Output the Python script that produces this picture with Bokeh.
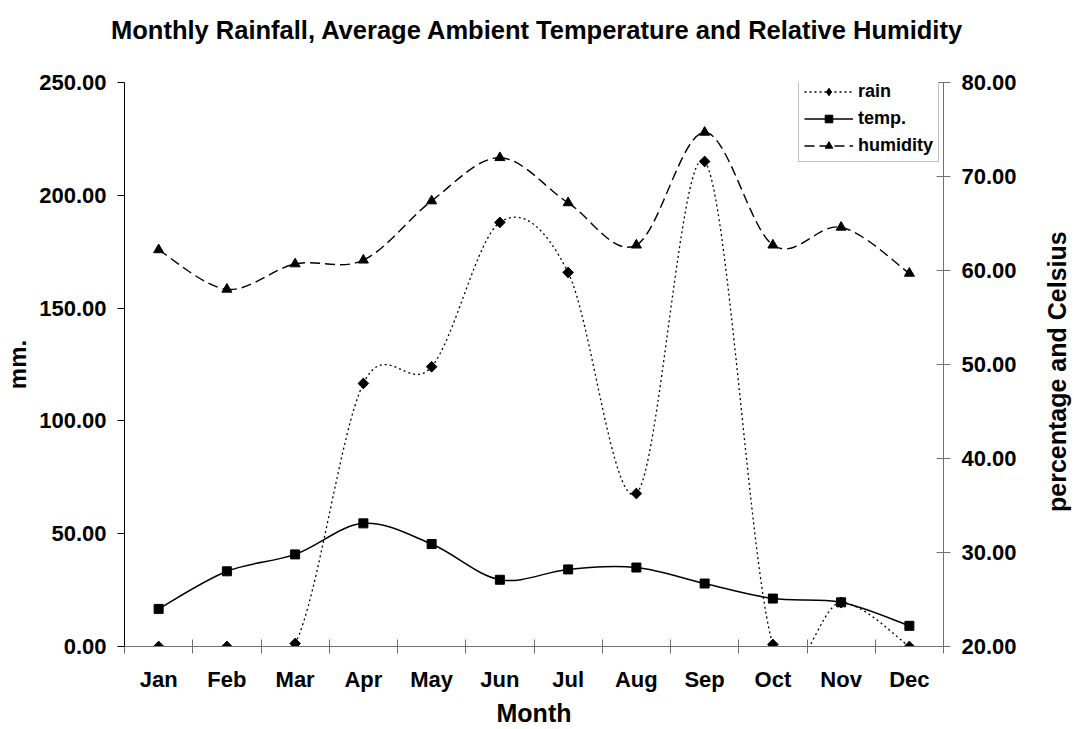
import math
import numpy as np
from bokeh.plotting import figure
from bokeh.layouts import column, row
from bokeh.models import (Range1d, LinearAxis, FixedTicker, NumeralTickFormatter,
                          Legend, LegendItem)
from bokeh.core.properties import value
from bokeh.embed import file_html
from bokeh.resources import INLINE

# ---- data ----
months = ["Jan", "Feb", "Mar", "Apr", "May", "Jun", "Jul", "Aug", "Sep", "Oct", "Nov", "Dec"]
rain = [0.0, 0.0, 1.3, 116.6, 124.0, 188.0, 165.8, 67.8, 215.0, 0.9, 19.5, 0.0]          # mm (left axis)
temp = [24.0, 28.0, 29.8, 33.1, 30.9, 27.1, 28.2, 28.4, 26.7, 25.1, 24.7, 22.2]         # Celsius (right axis)
humidity = [62.2, 58.0, 60.7, 61.1, 67.4, 72.0, 67.2, 62.7, 74.7, 62.7, 64.6, 59.7]    # % (right axis)
left_ticks = [0, 50, 100, 150, 200, 250]
right_ticks = [20, 30, 40, 50, 60, 70, 80]
title_text = "Monthly Rainfall, Average Ambient Temperature and Relative Humidity"
right_title = "percentage and Celsius"

xs = [i + 1 for i in range(len(months))]
FONT = "Liberation Sans"

W, H = 1074, 729
TOP_H = 60          # strip holding the chart title
SIDE_W = 44         # strip holding the right axis title
MAIN_W = W - SIDE_W
MAIN_H = H - TOP_H


def smooth_segments(x, y):
    """Cubic Bezier segments (Catmull-Rom style control points) through the data points,
    like a spreadsheet 'smoothed line'."""
    n = len(x)
    out = {k: [] for k in ("x0", "y0", "x1", "y1", "cx0", "cy0", "cx1", "cy1")}
    for i in range(n - 1):
        i0, i3 = max(i - 1, 0), min(i + 2, n - 1)
        out["x0"].append(x[i]); out["y0"].append(y[i])
        out["x1"].append(x[i + 1]); out["y1"].append(y[i + 1])
        out["cx0"].append(x[i] + (x[i + 1] - x[i0]) / 6.0)
        out["cy0"].append(y[i] + (y[i + 1] - y[i0]) / 6.0)
        out["cx1"].append(x[i + 1] - (x[i3] - x[i]) / 6.0)
        out["cy1"].append(y[i + 1] - (y[i3] - y[i]) / 6.0)
    return out


def blank(width, height):
    f = figure(width=width, height=height, output_backend="svg", toolbar_location=None,
               x_range=Range1d(0, width), y_range=Range1d(0, height),
               x_axis_location=None, y_axis_location=None,
               min_border_left=0, min_border_right=0, min_border_top=0, min_border_bottom=0)
    f.outline_line_color = None
    f.xgrid.visible = False
    f.ygrid.visible = False
    f.background_fill_color = "white"
    f.border_fill_color = "white"
    return f


# ---- title strip ----
t = blank(W, TOP_H)
t.text(x=[W / 2], y=[31], text=[title_text], text_align="center",
       text_baseline="alphabetic", text_font=value(FONT), text_font_size="25.5px",
       text_font_style="bold", text_color="black")

# ---- main chart ----
p = figure(width=MAIN_W, height=MAIN_H, output_backend="svg", toolbar_location=None,
           x_range=Range1d(0.5, len(months) + 0.5),
           y_range=Range1d(left_ticks[0], left_ticks[-1]),
           min_border_left=124, min_border_right=MAIN_W - 943,
           min_border_top=82 - TOP_H, min_border_bottom=83)
p.extra_y_ranges = {"right": Range1d(right_ticks[0], right_ticks[-1])}
p.background_fill_color = "white"
p.border_fill_color = "white"
p.outline_line_color = None
p.xgrid.visible = False
p.ygrid.visible = False

# x axis: labels at month centres, tick marks between months
xa = p.xaxis[0]
xa.ticker = FixedTicker(ticks=xs, minor_ticks=[v - 0.5 for v in xs] + [xs[-1] + 0.5])
xa.major_label_overrides = {v: m for v, m in zip(xs, months)}
xa.major_tick_line_color = None
xa.major_tick_in = 0
xa.major_tick_out = 0
xa.minor_tick_in = 7
xa.minor_tick_out = 7
xa.minor_tick_line_color = "#707070"
xa.axis_line_color = "#707070"
xa.major_label_standoff = 13
xa.major_label_text_font = FONT
xa.major_label_text_font_size = "22px"
xa.major_label_text_font_style = "bold"
xa.major_label_text_color = "black"
xa.axis_label = "Month"
xa.axis_label_text_font = FONT
xa.axis_label_text_font_size = "25px"
xa.axis_label_text_font_style = "bold"
xa.axis_label_text_color = "black"
xa.axis_label_standoff = 4

# left axis
ya = p.yaxis[0]
ya.ticker = FixedTicker(ticks=left_ticks)
ya.formatter = NumeralTickFormatter(format="0.00")
ya.minor_tick_line_color = None
ya.major_tick_in = 0
ya.major_tick_out = 7
ya.major_tick_line_color = "black"
ya.axis_line_color = "black"
ya.major_label_standoff = 11
ya.major_label_text_font = FONT
ya.major_label_text_font_size = "22px"
ya.major_label_text_font_style = "bold"
ya.major_label_text_color = "black"
ya.axis_label = "mm."
ya.axis_label_text_font = FONT
ya.axis_label_text_font_size = "24px"
ya.axis_label_text_font_style = "bold"
ya.axis_label_text_color = "black"
ya.axis_label_standoff = 5

# right axis
ra = LinearAxis(y_range_name="right")
ra.ticker = FixedTicker(ticks=right_ticks)
ra.formatter = NumeralTickFormatter(format="0.00")
ra.minor_tick_line_color = None
ra.major_tick_in = 7
ra.major_tick_out = 7
ra.major_tick_line_color = "#707070"
ra.axis_line_color = "#707070"
ra.major_label_standoff = 11
ra.major_label_text_font = FONT
ra.major_label_text_font_size = "22px"
ra.major_label_text_font_style = "bold"
ra.major_label_text_color = "black"
p.add_layout(ra, "right")

# series
hs = smooth_segments(xs, humidity)
r_hum_line = p.bezier(line_color="black", line_width=1.4, line_dash="10 5",
                      y_range_name="right", **hs)
r_hum_pts = p.scatter(xs, humidity, marker="triangle", size=10, color="black",
                      y_range_name="right")

rs = smooth_segments(xs, rain)
r_rain_line = p.bezier(line_color="black", line_width=1.3, line_dash="2 3", **rs)
# diamond drawn underneath the rotated-square markers; it supplies the legend swatch
r_rain_key = p.scatter(xs, rain, marker="diamond", size=10, color="black")
r_rain_pts = p.scatter(xs, rain, marker="square", angle=math.pi / 4, size=7.5, color="black")

ts = smooth_segments(xs, temp)
r_temp_line = p.bezier(line_color="black", line_width=1.5, y_range_name="right", **ts)
r_temp_pts = p.scatter(xs, temp, marker="square", size=9, color="black", y_range_name="right")

legend = Legend(items=[
    LegendItem(label="rain", renderers=[r_rain_line, r_rain_key]),
    LegendItem(label="temp.", renderers=[r_temp_line, r_temp_pts]),
    LegendItem(label="humidity", renderers=[r_hum_line, r_hum_pts]),
], location=(674, 484), orientation="vertical",
    glyph_width=49, glyph_height=19, label_height=19, label_standoff=5,
    spacing=6, padding=5, margin=0,
    label_text_font=FONT, label_text_font_size="18px", label_text_font_style="bold",
    label_text_color="black",
    border_line_color="#808080", border_line_width=1,
    background_fill_color="white", background_fill_alpha=1.0)
p.add_layout(legend)

# ---- right axis title strip ----
s = blank(SIDE_W, MAIN_H)
s.text(x=[1056 - MAIN_W], y=[326], text=[right_title], angle=math.pi / 2,
       text_align="center", text_baseline="middle", text_font=value(FONT),
       text_font_size="25px", text_font_style="bold", text_color="black")

layout = column(t, row(p, s, spacing=0), spacing=0)
open("out.html", "w").write(file_html(layout, INLINE))
